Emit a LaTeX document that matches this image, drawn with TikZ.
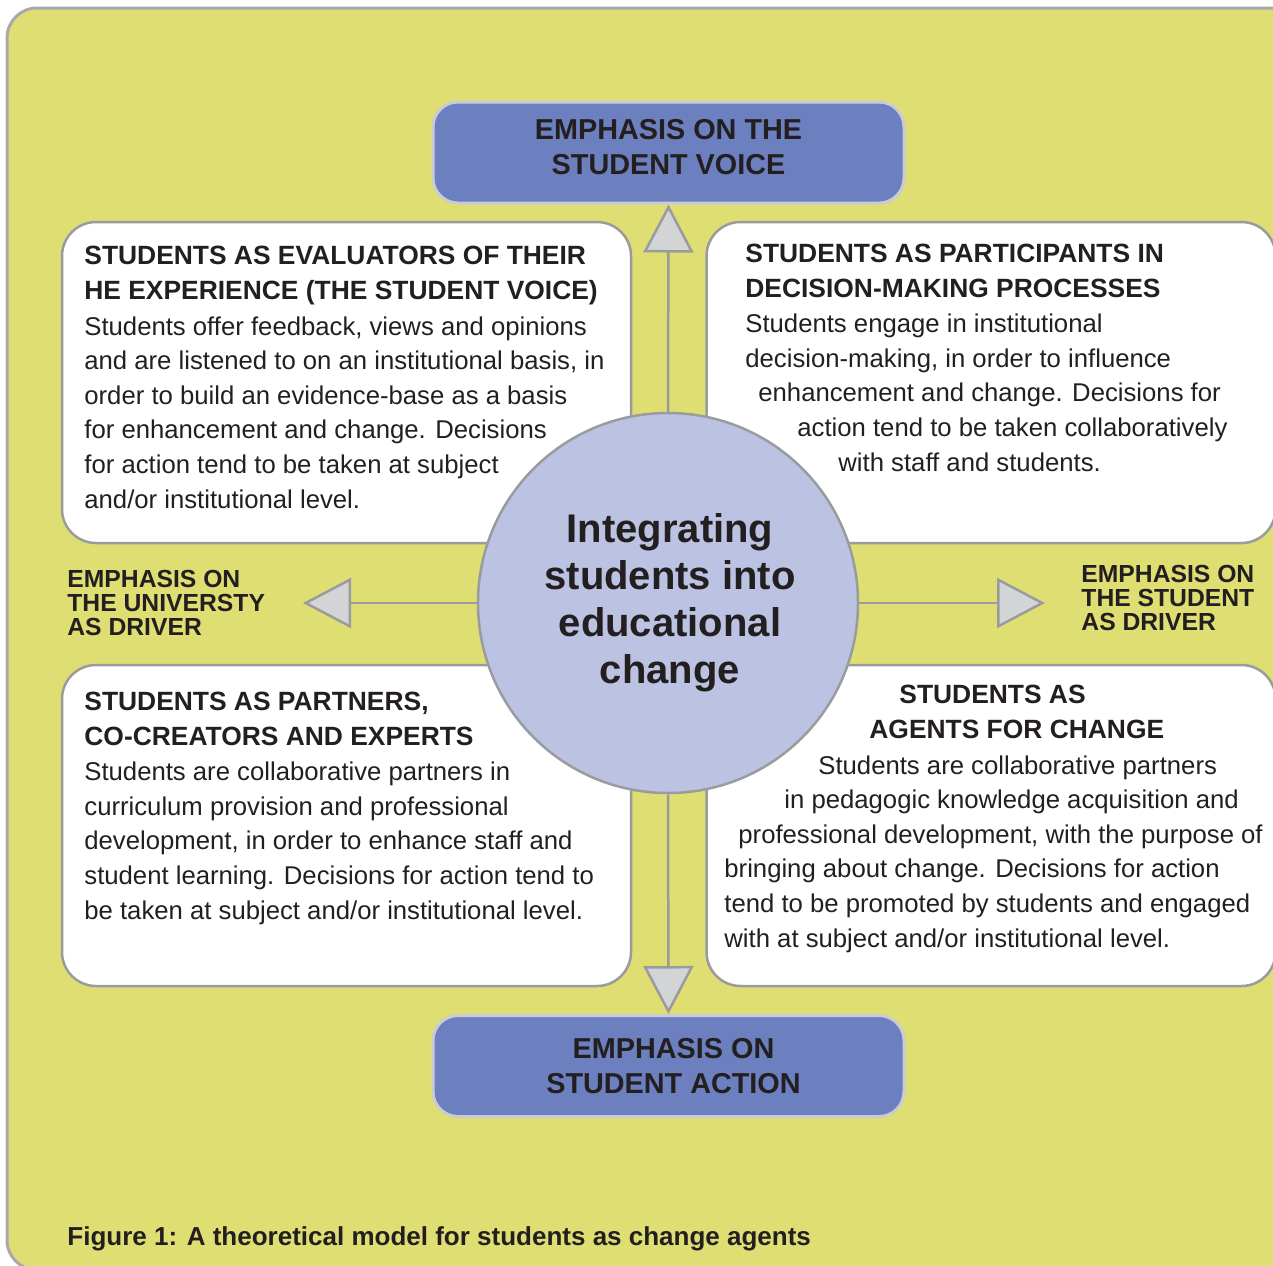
\documentclass[tikz,border=0pt]{standalone}
\usepackage{fontspec}
\setmainfont{Liberation Sans}
\usetikzlibrary{arrows.meta}

\definecolor{pagegreen}{HTML}{DFDE72}
\definecolor{emphblue}{HTML}{6C7FBF}
\definecolor{hubblue}{HTML}{BCC3E2}
\definecolor{framegrey}{HTML}{A8A9AD}
\definecolor{rimgrey}{HTML}{CACCD4}
\definecolor{tipgrey}{HTML}{D3D4D6}
\definecolor{linegrey}{HTML}{9A9B9E}
\definecolor{inkblack}{HTML}{231F20}

\begin{document}
\begin{tikzpicture}[x=0.5pt,y=-0.5pt]
\tikzset{quadbox/.style={draw=linegrey,line width=1.25pt,fill=white,rounded corners=17pt,minimum width=284.5pt,minimum height=160.5pt,inner sep=0pt}}
\tikzset{emphbox/.style={draw=rimgrey,line width=1.5pt,fill=emphblue,rounded corners=12.5pt,minimum width=235.5pt,minimum height=50.5pt,align=center,text=inkblack,font=\fontsize{14.4}{17.5}\selectfont\bfseries}}
\tikzset{hubdisc/.style={circle,draw=linegrey,line width=1.25pt,fill=hubblue,minimum size=190pt,inner sep=0pt,align=center,text=inkblack,font=\fontsize{20}{23.5}\selectfont\bfseries}}
\tikzset{headtext/.style={inner sep=0pt,align=left,text=inkblack,font=\fontsize{13.2}{17.5}\selectfont\bfseries}}
\tikzset{bodytext/.style={inner sep=0pt,align=left,text=inkblack,font=\fontsize{12.85}{17.3}\selectfont}}
\tikzset{sidetext/.style={inner sep=0pt,align=left,text=inkblack,font=\fontsize{12.35}{12}\selectfont\bfseries}}
\tikzset{tipline/.style={draw=linegrey,line width=1.25pt,-{Triangle[length=24pt,width=25pt,fill=tipgrey]}}}

\clip (0,0) rectangle (1273,1265);
\draw[draw=framegrey,line width=1.5pt,fill=pagegreen,rounded corners=15pt] (7,8) rectangle (1340,1270);

% the four quadrants
\node[quadbox] (evalbox) at (346.5,382.5) {};
\node[quadbox] (decibox) at (991,382.5) {};
\node[quadbox] (partbox) at (346.5,825.5) {};
\node[quadbox] (agentbox) at (991,825.5) {};

% the two poles
\node[emphbox,text depth=6pt] (voice) at (668.5,152.5) {EMPHASIS ON THE\\STUDENT VOICE};
\node[emphbox] (action) at (668.5,1066) {\hspace*{5pt}EMPHASIS ON\\\hspace*{5pt}STUDENT ACTION};

\node[hubdisc] (hub) at (668,603) {\hspace*{2pt}Integrating\\\hspace*{2pt}students into\\\hspace*{2pt}educational\\\hspace*{2pt}change};

\coordinate (unidrv) at (303,603);
\coordinate (stddrv) at (1045,603);

\draw[tipline] (hub.north) -- (voice.south);
\draw[tipline] (hub.south) -- (action.north);
\draw[tipline] (hub.west) -- (unidrv);
\draw[tipline] (hub.east) -- (stddrv);

% base anchor = baseline of last line
\node[sidetext,anchor=base west] (unilabel) at (67,635) {EMPHASIS ON\\THE UNIVERSTY\\AS DRIVER};
\node[sidetext,anchor=base west] (stdlabel) at (1081,630) {EMPHASIS ON\\THE STUDENT\\AS DRIVER};

% quadrant texts
\node[headtext,anchor=base west] (evalhead) at (84,299) {STUDENTS AS EVALUATORS OF THEIR\\HE EXPERIENCE (THE STUDENT VOICE)};
\node[bodytext,anchor=base west] (evalbody) at (84,508) {Students offer feedback, views and opinions\\and are listened to on an institutional basis, in\\order to build an evidence-base as a basis\\for enhancement and change. Decisions\\for action tend to be taken at subject\\and/or institutional level.};

\node[headtext,anchor=base west] (decihead) at (745,297) {STUDENTS AS PARTICIPANTS IN\\DECISION-MAKING PROCESSES};
\node[bodytext,anchor=base west] (decibody) at (745,471) {Students engage in institutional\\decision-making, in order to influence\\\hspace*{6.5pt}enhancement and change. Decisions for\\\hspace*{26pt}action tend to be taken collaboratively\\\hspace*{46.5pt}with staff and students.};

\node[headtext,anchor=base west] (parthead) at (84,745) {STUDENTS AS PARTNERS,\\CO-CREATORS AND EXPERTS};
\node[bodytext,anchor=base west] (partbody) at (84,919) {Students are collaborative partners in\\curriculum provision and professional\\development, in order to enhance staff and\\student learning. Decisions for action tend to\\be taken at subject and/or institutional level.};

\node[headtext,anchor=base west] (agenthead) at (724,738) {\hspace*{87.5pt}STUDENTS AS\\\hspace*{72.5pt}AGENTS FOR CHANGE};
\node[bodytext,anchor=base west] (agentbody) at (724,947) {\hspace*{47pt}Students are collaborative partners\\\hspace*{30pt}in pedagogic knowledge acquisition and\\\hspace*{7pt}professional development, with the purpose of\\bringing about change. Decisions for action\\tend to be promoted by students and engaged\\with at subject and/or institutional level.};

\node[inner sep=0pt,anchor=base west,text=inkblack,font=\fontsize{13}{15}\selectfont\bfseries] (caption) at (67,1245) {Figure 1: A theoretical model for students as change agents};

\end{tikzpicture}
\end{document}
